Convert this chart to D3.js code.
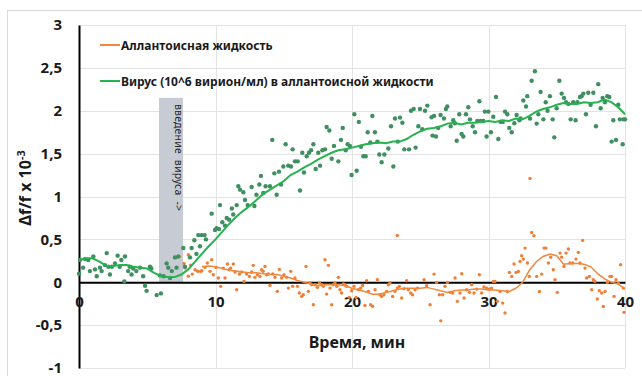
<!DOCTYPE html>
<html>
<head>
<meta charset="utf-8">
<script src="https://cdn.jsdelivr.net/npm/d3@7"></script>
<style>
  body { margin: 0; background: #fff; }
  svg { display: block; }
  text { font-family: "Noto Sans", "DejaVu Sans", sans-serif; }
</style>
</head>
<body>
<svg id="chart" width="642" height="376"></svg>
<script>
// ---- data ----
const xTicks = [0, 10, 20, 30, 40];
const yTicks = [-1, -0.5, 0, 0.5, 1, 1.5, 2, 2.5, 3];
const seriesNames = ["Аллантоисная жидкость", "Вирус (10^6 вирион/мл) в аллантоисной жидкости"];
const injectionLabel = "введение  вируса  ->";
const injectionSpan = [5.86, 7.62];   // min
const injectionTop = 2.15;

// virus in allantoic fluid: raw readings (time, Δf/f)
const virusT = [0.00,0.07,0.30,0.44,0.68,0.80,1.05,1.17,1.30,1.54,1.66,1.90,2.03,2.15,2.27,2.40,2.64,2.83,2.98,3.10,3.32,3.37,3.60,3.72,3.85,3.97,4.20,4.47,4.70,4.84,4.95,5.20,5.30,5.69,5.93,6.00,6.20,6.42,6.54,6.67,6.80,7.03,7.15,7.27,7.64,7.76,8.13,8.25,8.45,8.60,8.74,8.86,8.98,9.20,9.30,9.72,9.96,
  10.08,10.26,10.33,10.50,10.70,10.82,10.99,11.20,11.30,11.55,11.67,11.80,12.04,12.16,12.36,12.65,12.85,13.00,13.21,13.33,13.50,13.67,13.99,14.16,14.31,14.48,14.65,14.80,14.97,15.14,15.33,15.53,15.65,15.82,16.02,16.19,16.36,16.48,16.68,16.85,17.00,17.17,17.34,17.53,17.66,17.83,18.02,18.14,18.34,18.51,18.68,19.00,19.19,19.32,19.54,19.68,19.85,19.97,
  20.17,20.34,20.50,20.66,20.83,21.00,21.15,21.34,21.49,21.68,21.86,22.00,22.17,22.37,22.66,22.86,23.03,23.15,23.35,23.52,23.69,23.83,24.18,24.32,24.52,24.66,24.86,24.98,
  25.15,25.35,25.52,25.83,26.01,25.90,26.15,26.32,26.49,26.74,26.88,26.98,27.23,27.42,27.54,27.67,27.86,28.03,28.15,28.35,28.52,28.64,28.84,29.01,29.18,29.33,29.42,29.62,29.74,29.86,29.99,
  30.18,30.35,30.55,30.72,30.89,31.04,31.21,31.38,31.52,31.70,31.89,32.06,32.26,32.35,32.55,32.75,32.84,33.04,33.16,33.40,33.53,33.65,33.82,34.02,34.19,34.33,34.50,34.70,34.82,34.99,
  35.19,35.36,35.53,35.68,35.85,36.02,36.21,36.38,36.51,36.70,36.82,36.95,37.14,37.31,37.48,37.68,37.87,38.04,38.22,38.36,38.53,38.70,38.85,39.02,39.14,39.34,39.51,39.63,39.83,39.90,40.00];
const virusV = [0.10,0.26,0.17,0.27,0.26,0.13,0.30,0.15,0.07,0.17,0.13,0.20,0.34,0.18,0.09,0.18,0.22,0.31,0.18,0.26,0.01,0.30,0.13,0.18,0.09,0.16,0.13,0.17,0.07,-0.04,-0.10,0.18,0.16,-0.15,0.08,-0.13,0.07,0.22,0.17,0.05,0.13,0.29,0.17,0.30,0.40,0.18,0.29,0.40,0.49,0.33,0.55,0.42,0.55,0.55,0.50,0.80,0.61,
  0.63,0.62,0.90,0.70,0.66,0.75,0.73,0.86,0.79,0.90,1.12,1.08,1.05,0.96,0.90,1.11,0.89,1.02,1.14,1.24,1.04,1.12,1.12,1.66,1.27,1.02,1.29,1.14,1.35,1.61,1.36,1.35,1.55,1.41,1.41,1.07,1.51,1.28,1.47,1.51,1.54,1.61,1.32,1.51,1.36,1.54,1.55,1.81,1.77,1.44,1.59,1.41,1.66,1.80,1.54,1.61,1.59,1.25,
  1.96,1.30,1.87,1.58,1.47,1.47,1.75,1.63,1.94,1.75,1.64,1.49,1.40,1.49,1.56,1.82,1.35,1.91,1.64,1.92,1.86,1.55,1.55,2.00,2.02,1.57,1.82,2.02,
  1.785,2.00,2.06,1.925,1.94,1.71,1.70,1.80,1.95,1.91,2.02,2.05,1.82,1.89,1.855,1.65,1.96,1.73,1.70,1.96,2.04,1.90,1.82,1.75,1.88,2.11,1.88,1.88,1.99,1.70,1.99,
  1.75,1.93,2.16,1.67,1.87,1.87,1.99,1.96,1.80,1.75,1.855,1.95,1.89,1.91,2.12,2.05,2.17,1.91,2.35,2.46,1.85,1.96,2.22,1.90,2.10,2.00,2.17,1.90,1.69,2.03,
  2.35,2.20,2.15,2.10,2.08,1.90,2.10,1.89,2.10,2.16,2.17,2.20,1.96,2.21,2.07,2.21,1.82,2.31,2.03,2.15,2.10,2.17,2.16,1.64,1.89,1.66,2.07,1.90,1.61,1.90,1.90];

// virus: moving-average trend line
const virusTrendT = [0,0.5,1,1.5,2,2.5,3,3.5,4,4.5,5,5.5,6,6.5,7,7.5,8,8.5,9,9.5,10,10.5,11,11.5,12,12.5,13,13.5,14,14.5,15,15.5,16,16.5,17,17.5,18,18.5,19,19.5,20,20.5,21,21.5,22,22.5,23,23.5,24,24.5,25,25.5,26,26.5,27,27.5,28,28.5,29,29.5,30,30.5,31,31.5,32,32.5,33,33.5,34,34.5,35,35.5,36,36.5,37,37.5,38,38.5,39,39.5,40];
const virusTrendV = [0.26,0.28,0.28,0.24,0.19,0.19,0.20,0.20,0.18,0.17,0.16,0.11,0.07,0.06,0.06,0.09,0.15,0.24,0.33,0.42,0.50,0.59,0.68,0.76,0.83,0.89,0.96,1.03,1.08,1.13,1.18,1.25,1.29,1.34,1.38,1.43,1.47,1.51,1.54,1.55,1.57,1.59,1.61,1.62,1.63,1.62,1.64,1.64,1.67,1.72,1.76,1.79,1.80,1.82,1.85,1.86,1.84,1.86,1.86,1.87,1.88,1.87,1.89,1.88,1.91,1.90,1.94,1.99,2.02,2.04,2.07,2.09,2.08,2.08,2.10,2.09,2.10,2.13,2.10,2.04,1.96];

// allantoic fluid: raw readings (time, Δf/f)
const fluidT = [7.35,7.69,7.77,8.01,8.01,8.18,8.30,8.50,8.67,8.74,8.94,
  8.99,9.23,9.40,9.72,9.60,9.84,10.04,10.21,10.38,10.57,10.70,10.87,11.01,11.11,11.31,11.43,11.55,11.75,11.92,12.09,12.28,12.48,12.65,12.77,12.89,13.06,13.26,13.38,13.50,13.63,13.75,13.87,13.99,14.19,14.36,14.53,14.68,14.85,
  15.02,15.21,15.34,15.51,15.65,15.82,16.00,16.14,16.31,16.43,16.63,16.80,16.92,17.05,17.17,17.29,17.46,17.61,17.78,17.90,18.02,18.14,18.27,18.39,18.51,18.63,18.75,18.88,19.00,19.12,19.24,19.37,19.49,19.61,19.80,19.98,
  20.15,20.29,20.46,20.63,20.78,20.95,21.07,21.20,21.37,21.51,21.69,21.86,22.05,22.17,22.34,22.54,22.66,22.78,22.98,23.15,23.32,23.32,23.47,23.64,23.81,24.00,24.13,24.30,24.44,24.62,24.79,
  25.28,25.47,25.72,26.01,26.20,26.40,26.50,26.64,26.81,26.99,27.18,27.38,27.55,27.72,27.91,28.04,28.21,28.40,28.60,28.77,28.94,29.14,29.33,29.50,29.67,29.87,
  30.06,30.23,30.36,30.48,30.65,30.84,31.04,31.21,31.38,31.53,31.70,31.87,32.02,32.19,32.31,32.43,32.55,32.68,32.85,32.99,33.04,33.16,33.33,33.53,33.73,33.90,34.07,34.21,34.39,34.56,34.75,34.87,
  35.04,35.24,35.36,35.53,35.68,35.85,35.97,36.17,36.41,36.58,36.70,36.90,37.07,37.19,37.39,37.56,37.68,37.80,37.97,38.12,38.29,38.41,38.54,38.71,38.90,39.02,39.20,39.34,39.51,39.68,39.88,39.93];
const fluidV = [0.30,0.22,0.165,0.07,0.32,0.20,0.095,0.146,0.13,0.127,0.127,
  0.134,0.173,0.224,0.263,0.127,0.088,0.173,0.049,-0.048,0.165,0.049,0.212,0.146,0.165,0.212,0.119,-0.087,0.096,0.119,0.01,0.096,0.068,0.119,0.197,0.057,0.088,0.068,0.146,0.127,0.185,0.088,0.096,-0.037,0.096,0.057,-0.106,0.15,0.049,
  0.088,0.057,-0.068,0.127,-0.048,0.049,-0.048,-0.126,-0.165,-0.145,0.185,-0.106,-0.009,-0.029,-0.262,-0.029,-0.06,-0.009,-0.029,-0.048,0.263,-0.138,0.197,-0.068,-0.262,-0.029,-0.009,-0.048,0.057,-0.087,-0.126,-0.021,-0.029,-0.048,-0.176,-0.099,
  -0.048,-0.176,-0.087,-0.068,-0.037,-0.27,0.018,-0.106,-0.262,-0.281,-0.087,0.03,-0.145,-0.165,-0.145,-0.106,-0.029,-0.009,-0.165,-0.106,0.546,-0.068,-0.048,-0.184,-0.075,0.018,-0.087,-0.126,-0.145,-0.087,-0.068,
  0.029,-0.041,-0.262,0.095,-0.002,-0.146,-0.45,-0.146,-0.048,-0.002,-0.118,-0.126,0.049,-0.223,-0.126,0.099,-0.184,-0.087,-0.118,-0.029,-0.126,-0.08,0.087,-0.126,-0.056,-0.068,
  -0.08,-0.068,0.01,0.01,-0.223,-0.107,-0.243,-0.359,-0.107,0.115,0.068,0.212,0.115,0.126,0.243,0.309,0.27,0.398,0.224,0.068,1.21,0.581,0.542,0.068,-0.107,0.095,0.398,0.398,0.224,0.293,0.146,0.029,
  -0.118,0.34,0.293,0.185,0.34,0.387,0.224,0.224,0.27,0.348,0.224,0.488,0.165,0.049,0.068,-0.087,0.029,0.01,-0.196,-0.099,-0.126,-0.282,-0.107,-0.002,0.068,0.068,-0.165,0.029,-0.01,0.204,-0.068,-0.351];

// allantoic fluid: moving-average trend line
const fluidTrendT = [9,9.5,10,10.5,11,11.5,12,12.5,13,13.5,14,14.5,15,15.5,16,16.5,17,17.5,18,18.5,19,19.5,20,20.5,21,21.5,22,22.5,23,23.5,24,24.5,25,25.5,26,26.5,27,27.5,28,28.5,29,29.5,30,30.5,31,31.5,32,32.5,33,33.5,34,34.5,35,35.5,36,36.5,37,37.5,38,38.5,39,39.5,40];
const fluidTrendV = [0.18,0.19,0.18,0.16,0.14,0.13,0.12,0.11,0.11,0.10,0.09,0.09,0.07,0.05,0.02,0.00,-0.02,-0.04,-0.03,-0.03,-0.03,-0.04,-0.07,-0.09,-0.11,-0.14,-0.14,-0.12,-0.10,-0.08,-0.07,-0.07,-0.07,-0.06,-0.08,-0.10,-0.12,-0.10,-0.09,-0.09,-0.08,-0.08,-0.09,-0.09,-0.10,-0.11,-0.07,0.00,0.14,0.24,0.30,0.33,0.31,0.21,0.22,0.22,0.21,0.18,0.10,0.04,0.00,-0.02,-0.08];

// ---- drawing ----
const svg = d3.select("#chart");
const x = d3.scaleLinear().domain([0, 40]).range([79, 625]);
const y = d3.scaleLinear().domain([-1, 3]).range([368, 25]);
const fmt = d3.formatLocale({decimal: ",", thousands: " ", grouping: [3], currency: ["", ""], minus: "-"}).format("~g");

const C = {
  grid: "#e3e3e3", band: "#c7ccd4",
  fluidDot: "#f07f35", fluidLine: "#f0883e",
  virusDot: "#3f8f60", virusLine: "#25b34f"
};

// chart frame
svg.append("rect").attr("x", 7.5).attr("y", 10.5).attr("width", 660).attr("height", 400)
  .attr("fill", "none").attr("stroke", "#d9d9d9");

// gridlines
svg.append("g").selectAll("line").data(yTicks).join("line")
  .attr("x1", x(0)).attr("x2", x(40)).attr("y1", d => Math.round(y(d)) + 0.5).attr("y2", d => Math.round(y(d)) + 0.5)
  .attr("stroke", C.grid);
svg.append("g").selectAll("line").data(xTicks.slice(1)).join("line")
  .attr("x1", d => Math.round(x(d)) + 0.5).attr("x2", d => Math.round(x(d)) + 0.5).attr("y1", y(3)).attr("y2", y(-1))
  .attr("stroke", C.grid);

// injection band
svg.append("rect")
  .attr("x", x(injectionSpan[0])).attr("width", x(injectionSpan[1]) - x(injectionSpan[0]))
  .attr("y", y(injectionTop)).attr("height", y(0) - y(injectionTop))
  .attr("fill", C.band);
svg.append("text")
  .attr("transform", `translate(${(x(injectionSpan[0]) + x(injectionSpan[1])) / 2 + 4},${y(injectionTop) + 6}) rotate(90)`)
  .attr("font-size", 10.5).attr("fill", "#262626").attr("letter-spacing", 0.2)
  .attr("xml:space", "preserve").style("white-space", "pre")
  .text(injectionLabel);

// axes
const yAxis = svg.append("g").attr("transform", `translate(${x(0)},0)`)
  .call(d3.axisLeft(y).tickValues(yTicks).tickFormat(fmt).tickSize(0).tickPadding(17));
yAxis.select(".domain").attr("stroke", "#000").attr("stroke-width", 2);
yAxis.selectAll("text").attr("font-size", 15).attr("font-weight", "bold").attr("fill", "#1a1a1a")
  .attr("font-family", '"Noto Sans", sans-serif');

const xAxis = svg.append("g").attr("transform", `translate(0,${y(0)})`)
  .call(d3.axisBottom(x).tickValues(xTicks).tickFormat(fmt).tickSize(0).tickPadding(14));
xAxis.select(".domain").attr("stroke", "#000").attr("stroke-width", 2);
xAxis.selectAll("text").attr("font-size", 15).attr("font-weight", "bold").attr("fill", "#1a1a1a")
  .attr("font-family", '"Noto Sans", sans-serif');

// scatter points
svg.append("g").selectAll("circle").data(d3.range(fluidT.length)).join("circle")
  .attr("cx", i => x(fluidT[i])).attr("cy", i => y(fluidV[i])).attr("r", 1.7)
  .attr("fill", C.fluidDot);
svg.append("g").selectAll("circle").data(d3.range(virusT.length)).join("circle")
  .attr("cx", i => x(virusT[i])).attr("cy", i => y(virusV[i])).attr("r", 2.2)
  .attr("fill", C.virusDot);

// trend lines
const line = d3.line().x(d => x(d[0])).y(d => y(d[1]));
svg.append("path").datum(d3.zip(fluidTrendT, fluidTrendV)).attr("d", line)
  .attr("fill", "none").attr("stroke", C.fluidLine).attr("stroke-width", 1.5);
svg.append("path").datum(d3.zip(virusTrendT, virusTrendV)).attr("d", line)
  .attr("fill", "none").attr("stroke", C.virusLine).attr("stroke-width", 2);

// legend
const legend = svg.append("g");
[[C.fluidLine, 45], [C.virusLine, 81]].forEach(([col, ly], i) => {
  legend.append("line").attr("x1", 100).attr("x2", 120).attr("y1", ly).attr("y2", ly)
    .attr("stroke", col).attr("stroke-width", 2);
  legend.append("text").attr("x", 121).attr("y", ly + 4.5)
    .attr("font-size", 12).attr("font-weight", "bold").attr("fill", "#1a1a1a")
    .text(seriesNames[i]);
});

// axis titles
svg.append("text").attr("x", 357).attr("y", 348).attr("text-anchor", "middle")
  .attr("font-size", 16).attr("font-weight", "bold").attr("fill", "#1a1a1a")
  .text("Время, мин");
const yt = svg.append("text").attr("transform", "translate(31,188) rotate(-90)")
  .attr("text-anchor", "middle").attr("font-size", 16).attr("font-weight", "bold").attr("fill", "#1a1a1a");
yt.append("tspan").text("Δf/f x 10");
yt.append("tspan").attr("font-size", 11).attr("dy", -6).text("-3");
</script>
</body>
</html>
